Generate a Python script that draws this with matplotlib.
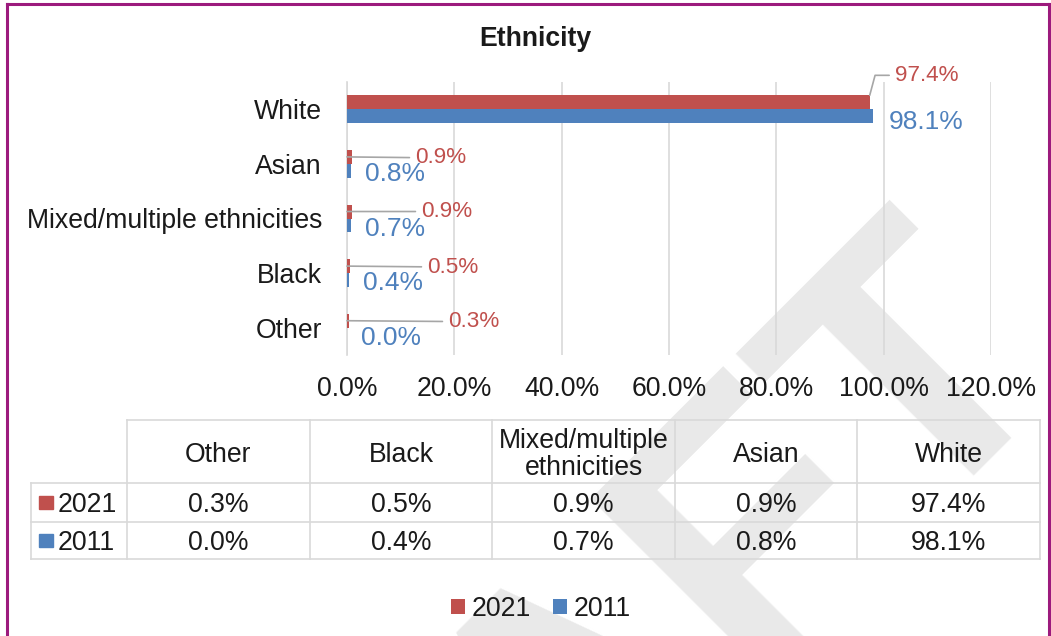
import matplotlib
matplotlib.use('Agg')
import matplotlib.pyplot as plt
from matplotlib.patches import Rectangle
from matplotlib.lines import Line2D
import numpy as np

plt.rcParams['font.family'] = ['Liberation Sans', 'DejaVu Sans']

# ---------------- data ----------------
categories = ['Other', 'Black', 'Mixed/multiple ethnicities', 'Asian', 'White']
table_headers = ['Other', 'Black', 'Mixed/multiple\nethnicities', 'Asian', 'White']
series_names = ['2021', '2011']
values_2021 = [0.3, 0.5, 0.9, 0.9, 97.4]
values_2011 = [0.0, 0.4, 0.7, 0.8, 98.1]
x_ticks = [0, 20, 40, 60, 80, 100, 120]

# ---------------- styles / layout ----------------
W, H = 1051, 636
RED = '#c0504d'
BLUE = '#4f81bd'
GRID = '#d9d9d9'
TXT = '#1a1a1a'
FS = 19.2
red_label_offsets = [(98, -1), (77, -1), (71, 0), (65, -1), (25, 20)]   # pixels
blue_label_offsets = [(14, -3), (14, -3), (14, -4), (14, -3), (15, -6)]

fig = plt.figure(figsize=(W / 100, H / 100), dpi=100)

# watermark
fig.text(1065 / W, 1 - 358 / H, 'DRAFT', rotation=45, rotation_mode='anchor',
         ha='right', va='baseline', fontsize=266, fontweight='bold',
         color='#e9e9e9', zorder=-5)

# ---------------- bar chart ----------------
ax = fig.add_axes([347 / W, 1 - 355 / H, (991 - 347) / W, (355 - 82) / H])
ax.set_facecolor('none')
y = np.arange(len(categories))
bh = 0.256
ax.barh(y + bh / 2, values_2021, height=bh, color=RED, label=series_names[0], zorder=3)
ax.barh(y - bh / 2, values_2011, height=bh, color=BLUE, label=series_names[1], zorder=3)
ax.set_xlim(0, 120)
ax.set_ylim(-0.5, len(categories) - 0.5)
ax.set_xticks(x_ticks)
ax.set_xticklabels([f'{t:.1f}%' for t in x_ticks])
ax.set_yticks(y)
ax.set_yticklabels(categories)
ax.tick_params(axis='both', length=0, labelsize=FS, labelcolor=TXT)
ax.tick_params(axis='y', pad=18)
ax.tick_params(axis='x', pad=15)
ax.grid(axis='x', color=GRID, lw=1.2)
ax.set_axisbelow(True)
for s in ['top', 'right', 'bottom']:
    ax.spines[s].set_visible(False)
ax.spines['left'].set_color(GRID)
ax.spines['left'].set_linewidth(1.2)

for i, v in enumerate(values_2021):
    dx, dy = red_label_offsets[i]
    if v > 50:
        xy = (v, y[i] + bh)
        cs = 'angle,angleA=0,angleB=75,rad=0'
    else:
        xy = (0, y[i] + bh / 2)
        cs = 'arc3'
        dx = dx + 3
    ax.annotate(f'{v:.1f}%', xy=xy, xytext=(dx, dy), textcoords='offset pixels',
                ha='left', va='center', color=RED, fontsize=16.2,
                arrowprops=dict(arrowstyle='-', color='#a6a6a6', lw=1.2,
                                shrinkA=2, shrinkB=0, connectionstyle=cs))
for i, v in enumerate(values_2011):
    dx, dy = blue_label_offsets[i]
    ax.annotate(f'{v:.1f}%', xy=(v, y[i] - bh / 2), xytext=(dx, dy),
                textcoords='offset pixels', ha='left', va='center',
                color=BLUE, fontsize=19)

fig.text(535 / W, 1 - 46 / H, 'Ethnicity', ha='center', va='baseline',
         fontsize=FS, fontweight='bold', color=TXT)

# ---------------- data table ----------------
tax = fig.add_axes([31 / W, 1 - 559 / H, (1040 - 31) / W, (559 - 420) / H])
tax.set_xlim(0, 1009)
tax.set_ylim(0, 139)
tax.axis('off')
label_w, col_w = 96, 182.6
col_edges = label_w + np.arange(len(categories) + 1) * col_w
row_edges = [0, 37, 76, 139]
text_shift = -3
lkw = dict(color=GRID, lw=1.2, clip_on=False)
tax.plot([col_edges[0], col_edges[-1]], [row_edges[3]] * 2, **lkw)
for r in row_edges[:3]:
    tax.plot([0, col_edges[-1]], [r, r], **lkw)
tax.plot([0, 0], [row_edges[0], row_edges[2]], **lkw)
for c in col_edges:
    tax.plot([c, c], [row_edges[0], row_edges[3]], **lkw)

for j, hdr in enumerate(table_headers):
    cx = (col_edges[j] + col_edges[j + 1]) / 2
    tax.text(cx, (row_edges[2] + row_edges[3]) / 2 + text_shift, hdr, ha='center',
             va='center', fontsize=FS, color=TXT, linespacing=1.08)

rows = [(series_names[0], values_2021, RED), (series_names[1], values_2011, BLUE)]
for k, (name, vals, col) in enumerate(rows):
    cy = (row_edges[2 - k] + row_edges[1 - k]) / 2
    tax.add_patch(Rectangle((8, cy - 6.5), 14, 13, color=col, clip_on=False))
    tax.text(27, cy + text_shift, name, ha='left', va='center', fontsize=FS, color=TXT)
    for j, v in enumerate(vals):
        cx = (col_edges[j] + col_edges[j + 1]) / 2
        tax.text(cx, cy + text_shift, f'{v:.1f}%', ha='center', va='center',
                 fontsize=FS, color=TXT)

# ---------------- legend ----------------
handles, labels = ax.get_legend_handles_labels()
fig.legend(handles, labels, loc='center', bbox_to_anchor=(541 / W, 1 - 609 / H),
           ncol=2, frameon=False, fontsize=FS, handlelength=0.5, handleheight=0.5,
           handletextpad=0.25, columnspacing=0.85, borderaxespad=0, borderpad=0,
           labelcolor=TXT)

# ---------------- frame ----------------
PURPLE = '#9c1a7d'
fx0, fx1, fy0 = 7 / W, 1049 / W, 1 - 4 / H
for xs, ys in [([fx0, fx0], [0, fy0]), ([fx0, fx1], [fy0, fy0]), ([fx1, fx1], [0, fy0])]:
    fig.add_artist(Line2D(xs, ys, transform=fig.transFigure, color=PURPLE, lw=2.2))

fig.savefig('out.png', dpi=100)
